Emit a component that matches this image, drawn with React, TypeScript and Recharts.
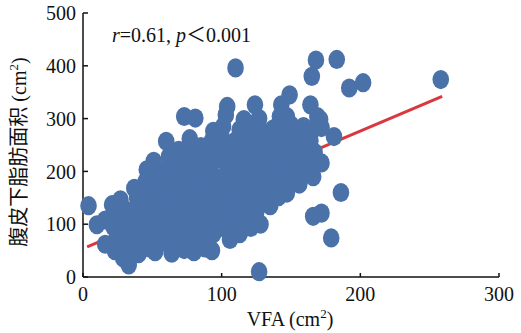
import {
  Label,
  ReferenceLine,
  Scatter,
  ScatterChart,
  XAxis,
  YAxis,
} from 'recharts';

// VFA (cm2) vs subcutaneous fat area (cm2)
const points: [number, number][] = [
  [4, 135], [10, 99], [16, 108], [16, 62], [21, 137], [27, 146], [29, 36], [33, 23],
  [30, 128], [31, 105], [28, 82], [32, 60], [25, 118], [22, 95], [24, 72], [23, 50],
  [37, 168], [39, 150], [38, 128], [36, 105], [39, 84], [37, 62], [40, 44],
  [46, 203], [45, 180], [47, 158], [44, 136], [46, 114], [45, 92], [47, 70], [48, 55],
  [51, 219], [54, 196], [53, 174], [55, 152], [52, 130], [54, 108], [53, 86], [55, 64], [52, 48],
  [60, 257], [62, 228], [61, 205], [63, 183], [60, 160], [62, 138], [64, 116], [61, 94], [63, 72], [64, 45],
  [69, 240], [70, 220], [71, 200], [68, 178], [70, 156], [72, 134], [69, 112], [71, 90], [70, 68], [73, 52],
  [73, 304], [81, 301], [77, 262], [79, 238], [76, 216], [78, 194], [80, 172], [77, 150], [79, 128],
  [76, 106], [78, 84], [76, 61], [80, 48],
  [85, 247], [87, 225], [84, 203], [86, 181], [88, 159], [85, 137], [87, 115], [84, 93], [86, 71], [88, 55],
  [94, 276], [93, 258], [95, 232], [92, 214], [94, 192], [96, 170], [93, 148], [95, 126], [92, 104],
  [94, 82], [93, 50],
  [104, 323], [103, 307], [101, 285], [100, 265], [103, 243], [101, 221], [104, 199], [102, 177],
  [100, 155], [103, 133], [101, 111], [104, 89], [106, 71],
  [110, 396], [116, 298], [113, 279], [110, 258], [108, 236], [111, 214], [109, 192], [112, 170],
  [110, 148], [108, 126], [111, 104], [113, 82],
  [119, 290], [117, 268], [120, 246], [118, 224], [116, 202], [119, 180], [117, 158], [120, 136],
  [118, 114], [121, 94],
  [124, 326], [127, 300], [128, 278], [126, 256], [125, 234], [127, 212], [124, 190], [128, 168],
  [126, 146], [125, 124], [128, 100], [127, 10],
  [132, 266], [137, 280], [135, 248], [134, 228], [133, 206], [136, 184], [134, 162], [135, 135],
  [143, 326], [142, 304], [140, 285], [141, 262], [143, 240], [142, 218], [140, 196], [144, 174], [141, 152],
  [149, 345], [147, 304], [150, 288], [151, 268], [149, 246], [152, 224], [148, 202], [152, 178], [147, 159],
  [159, 285], [154, 260], [157, 238], [159, 216], [156, 194], [156, 176],
  [164, 326], [169, 304], [166, 280], [164, 258], [167, 236], [165, 214], [166, 190],
  [171, 298], [172, 216], [172, 283], [181, 266],
  [165, 380], [168, 411], [183, 412], [192, 358], [202, 368], [258, 374],
  [186, 160], [166, 115], [172, 121], [179, 74],
  // inner part of the dense cloud
  [34, 95], [42, 120], [42, 75], [50, 100], [50, 140], [50, 165], [58, 120], [58, 80], [58, 170],
  [58, 195], [66, 100], [66, 145], [66, 190], [74, 120], [74, 165], [74, 210], [82, 95], [82, 140],
  [82, 185], [82, 230], [90, 120], [90, 165], [90, 205], [90, 245], [98, 95], [98, 140], [98, 185],
  [98, 250], [106, 120], [106, 165], [106, 210], [106, 250], [114, 140], [114, 185], [114, 230],
  [122, 160], [122, 205], [122, 250], [130, 155], [130, 195], [130, 240], [138, 170], [138, 215],
  [138, 260], [146, 185], [146, 230], [146, 280], [154, 210], [154, 240], [162, 225], [162, 270],
];

const fitLine = [
  { x: 3, y: 57 },
  { x: 259, y: 342 },
];

const xTicks = [0, 100, 200, 300];
const yTicks = [0, 100, 200, 300, 400, 500];

const serif = '"Liberation Serif", "Times New Roman", "Noto Sans CJK SC", serif';
const dotColor = '#4A72A9';

const scatterData = points.map(([x, y]) => ({ x, y }));

const Dot = (props: any) => (
  <ellipse cx={props.cx} cy={props.cy} rx={8.3} ry={9.6} fill={dotColor} stroke="none" />
);

const XTitle = () => (
  <text x={290} y={326} textAnchor="middle" fontFamily={serif} fontSize={20} fill="#111">
    VFA (cm
    <tspan dy={-8} fontSize={13}>2</tspan>
    <tspan dy={8}>)</tspan>
  </text>
);

const YTitle = () => (
  <text
    transform="translate(26,152) rotate(-90)"
    textAnchor="middle"
    fontFamily={serif}
    fontSize={20}
    fill="#111"
  >
    腹皮下脂肪面积 (cm
    <tspan dy={-8} fontSize={13}>2</tspan>
    <tspan dy={8}>)</tspan>
  </text>
);

export default function App() {
  return (
    <div style={{ position: 'absolute', left: 0, top: 0, width: 521, height: 333, background: '#fff' }}>
      <ScatterChart width={521} height={333} margin={{ top: 13, right: 22, left: 0, bottom: 0 }}>
        <XAxis
          type="number"
          dataKey="x"
          domain={[0, 300]}
          ticks={xTicks}
          height={56}
          tickSize={-4}
          tickMargin={14}
          axisLine={{ stroke: '#111', strokeWidth: 1.5 }}
          tickLine={{ stroke: '#111', strokeWidth: 1.5 }}
          tick={{ fontSize: 20, fill: '#111', fontFamily: serif }}
        >
          <Label content={XTitle} />
        </XAxis>
        <YAxis
          type="number"
          dataKey="y"
          domain={[0, 500]}
          ticks={yTicks}
          width={83}
          tickSize={-5}
          tickMargin={12}
          axisLine={{ stroke: '#111', strokeWidth: 1.5 }}
          tickLine={{ stroke: '#111', strokeWidth: 1.5 }}
          tick={{ fontSize: 20, fill: '#111', fontFamily: serif }}
        >
          <Label content={YTitle} />
        </YAxis>
        <Scatter data={scatterData} shape={Dot} isAnimationActive={false} />
        <ReferenceLine
          segment={fitLine}
          stroke="#D9383E"
          strokeWidth={3}
          ifOverflow="visible"
        />
      </ScatterChart>
      <div
        style={{
          position: 'absolute',
          left: 112,
          top: 25,
          fontFamily: serif,
          fontSize: 20,
          color: '#111',
          whiteSpace: 'nowrap',
          lineHeight: '20px',
        }}
      >
        <i>r</i>=0.61, <i>p</i>＜0.001
      </div>
    </div>
  );
}
